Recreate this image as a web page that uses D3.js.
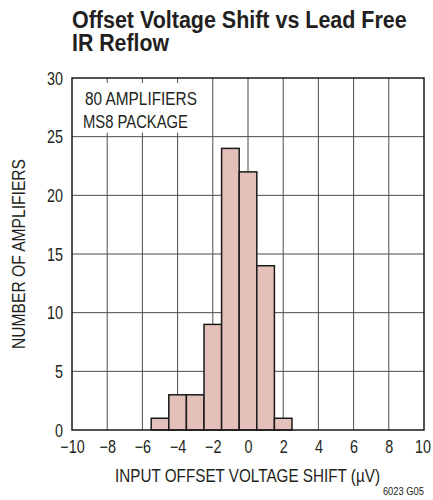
<!DOCTYPE html>
<html>
<head>
<meta charset="utf-8">
<script src="https://cdn.jsdelivr.net/npm/d3@7"></script>
<style>
  body { margin: 0; background: #fff; }
  text { font-family: "Liberation Sans", Arial, sans-serif; fill: #231f20; }
</style>
</head>
<body>
<script>
// histogram bins (centre of each 1 µV wide bin) and counts
const binCenters = [-5, -4, -3, -2, -1, 0, 1, 2];
const counts = [1, 3, 3, 9, 24, 22, 14, 1];
const xTicks = [-10, -8, -6, -4, -2, 0, 2, 4, 6, 8, 10];
const yTicks = [0, 5, 10, 15, 20, 25, 30];
const titleLines = ['Offset Voltage Shift vs Lead Free', 'IR Reflow'];
const noteLines = ['80 AMPLIFIERS', 'MS8 PACKAGE'];

const W = 433, H = 500;
const margin = { top: 78, right: 9, bottom: 70, left: 72 };

const svg = d3.select('body').append('svg')
  .attr('width', W)
  .attr('height', H);

const x = d3.scaleLinear().domain([-10, 10]).range([margin.left, W - margin.right]);
const y = d3.scaleLinear().domain([0, 30]).range([H - margin.bottom, margin.top]);

// no narrow font installed, so squeeze glyphs horizontally
function condense(sel, k) {
  sel.each(function () {
    const w = this.getComputedTextLength();
    d3.select(this).attr('textLength', w * k).attr('lengthAdjust', 'spacingAndGlyphs');
  });
}

// title, squeezed with a horizontal scale to the reference width
const titleW = [335, 97];
svg.append('g')
  .selectAll('text')
  .data(titleLines)
  .join('text')
  .style('font-size', '24.5px')
  .style('font-weight', 'bold')
  .text(d => d)
  .each(function (d, i) {
    const k = titleW[i] / this.getComputedTextLength();
    d3.select(this).attr('transform', `translate(72,${28 + i * 23}) scale(${k},1)`);
  });

// grid
const grid = svg.append('g').attr('stroke', '#4a4a4a').attr('stroke-width', 1);
grid.selectAll('.vx')
  .data(xTicks.slice(1, -1))
  .join('line')
  .attr('x1', d => x(d)).attr('x2', d => x(d))
  .attr('y1', y(0)).attr('y2', y(30));
grid.selectAll('.hy')
  .data(yTicks.slice(1, -1))
  .join('line')
  .attr('x1', x(-10)).attr('x2', x(10))
  .attr('y1', d => y(d)).attr('y2', d => y(d));

// note box covering the grid in the top left corner (grid stubs stay visible at its edges)
svg.append('rect')
  .attr('x', x(-10) + 1)
  .attr('y', y(30) + 5)
  .attr('width', x(-2) - x(-10) - 2)
  .attr('height', y(25) - y(30) - 9)
  .attr('fill', '#fff');

const noteW = [112, 105];
svg.append('g')
  .selectAll('text')
  .data(noteLines)
  .join('text')
  .attr('x', (d, i) => i ? 83 : 85)
  .attr('y', (d, i) => 105 + i * 22.5)
  .attr('textLength', (d, i) => noteW[i])
  .attr('lengthAdjust', 'spacingAndGlyphs')
  .style('font-size', '17.5px')
  .text(d => d);

// bars
svg.append('g')
  .selectAll('rect')
  .data(binCenters)
  .join('rect')
  .attr('x', d => x(d - 0.5))
  .attr('width', d => x(d + 0.5) - x(d - 0.5))
  .attr('y', (d, i) => y(counts[i]))
  .attr('height', (d, i) => y(0) - y(counts[i]))
  .attr('fill', '#e3c1ba')
  .attr('stroke', '#1a1a1a')
  .attr('stroke-width', 1.5);

// frame
svg.append('rect')
  .attr('x', x(-10))
  .attr('y', y(30))
  .attr('width', x(10) - x(-10))
  .attr('height', y(0) - y(30))
  .attr('fill', 'none')
  .attr('stroke', '#1a1a1a')
  .attr('stroke-width', 1.5);

// axes (labels only), tick labels squeezed with a scale transform
const tickK = 0.8;
const xAxis = svg.append('g')
  .attr('transform', `translate(0,${y(0)})`)
  .call(d3.axisBottom(x).tickValues(xTicks).tickSize(0).tickPadding(10));
const yAxis = svg.append('g')
  .attr('transform', `translate(${x(-10)},0)`)
  .call(d3.axisLeft(y).tickValues(yTicks).tickSize(0).tickPadding(9));
[xAxis, yAxis].forEach(a => {
  a.select('.domain').remove();
  a.selectAll('text')
    .attr('fill', '#231f20')
    .style('font-size', '18px')
    .style('font-family', null)
    .attr('x', function () { return (+d3.select(this).attr('x') || 0) / tickK; })
    .attr('transform', `scale(${tickK},1)`);
});
yAxis.selectAll('text').attr('dy', '0.35em');
// keep the last x label inside the window
xAxis.selectAll('.tick').filter(d => d === 10).select('text').attr('x', -2);

// axis titles
svg.append('text')
  .attr('x', (x(-10) + x(10)) / 2 - 0.5)
  .attr('y', 482)
  .attr('text-anchor', 'middle')
  .attr('textLength', 265)
  .attr('lengthAdjust', 'spacingAndGlyphs')
  .style('font-size', '18px')
  .text('INPUT OFFSET VOLTAGE SHIFT (µV)');

svg.append('text')
  .attr('transform', `translate(25,${(y(0) + y(30)) / 2}) rotate(-90)`)
  .attr('text-anchor', 'middle')
  .attr('textLength', 190)
  .attr('lengthAdjust', 'spacingAndGlyphs')
  .style('font-size', '18px')
  .text('NUMBER OF AMPLIFIERS');

const code = svg.append('text')
  .attr('x', 424)
  .attr('y', 495)
  .attr('text-anchor', 'end')
  .style('font-size', '11px')
  .text('6023 G05');
condense(code, 0.85);
</script>
</body>
</html>
